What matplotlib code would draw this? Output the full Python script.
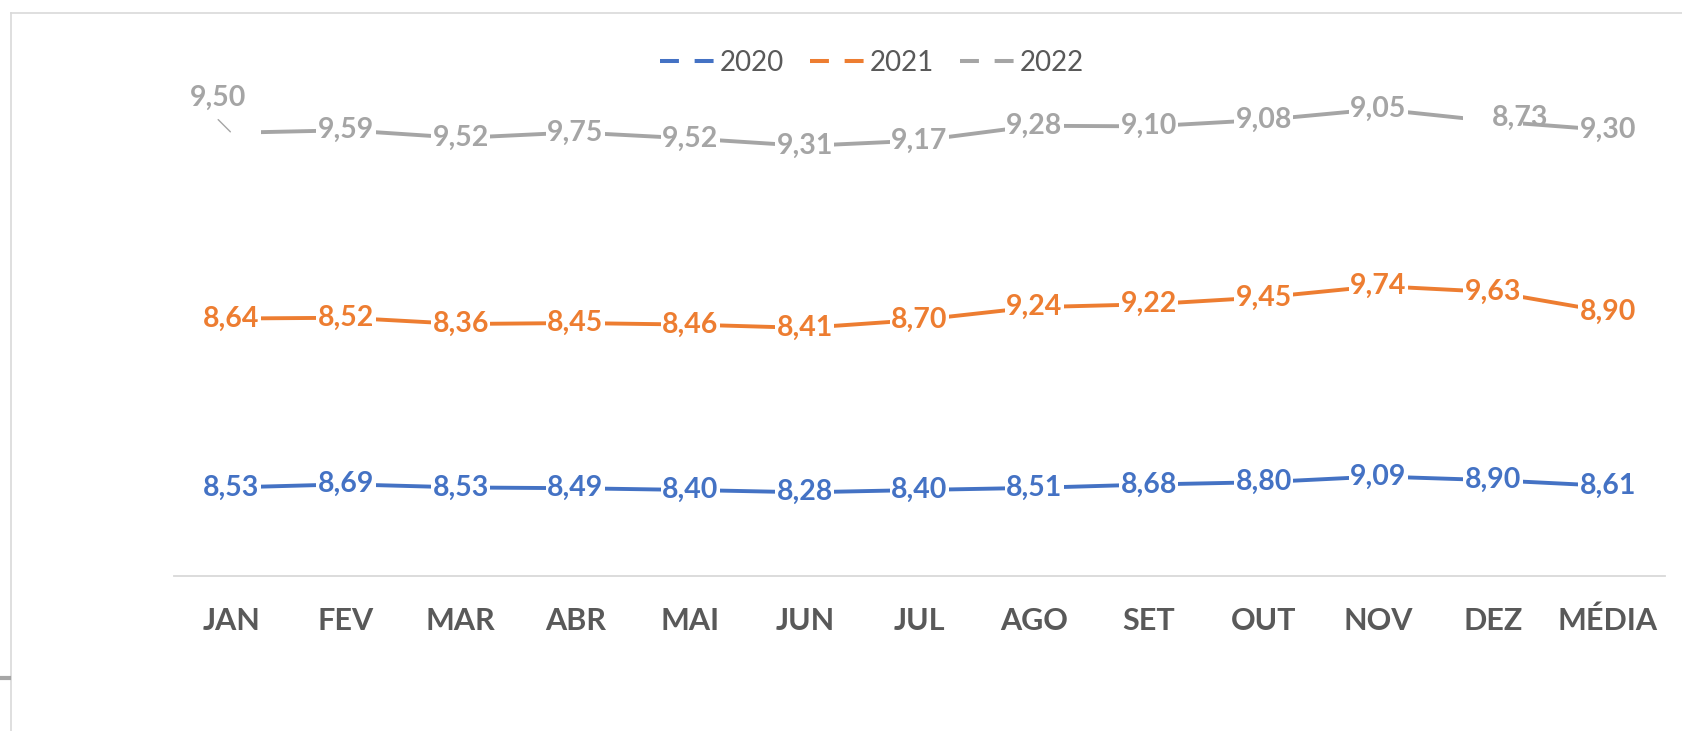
import numpy as np
import matplotlib
matplotlib.use("Agg")
import matplotlib.pyplot as plt
from matplotlib.lines import Line2D

plt.rcParams["font.family"] = ["Lato", "DejaVu Sans"]

months = ["JAN", "FEV", "MAR", "ABR", "MAI", "JUN", "JUL", "AGO", "SET",
          "OUT", "NOV", "DEZ", "MÉDIA"]
y2020 = [8.53, 8.69, 8.53, 8.49, 8.40, 8.28, 8.40, 8.51, 8.68, 8.80, 9.09, 8.90, 8.61]
y2021 = [8.64, 8.52, 8.36, 8.45, 8.46, 8.41, 8.70, 9.24, 9.22, 9.45, 9.74, 9.63, 8.90]
y2022 = [9.50, 9.59, 9.52, 9.75, 9.52, 9.31, 9.17, 9.28, 9.10, 9.08, 9.05, 8.73, 9.30]
years = ["2020", "2021", "2022"]

COLORS = ["#4472C4", "#ED7D31", "#A5A5A5"]
AXIS_TXT = "#595959"
W, H = 1683, 731
LBL_SIZE = 20.5

# labels that were dragged away from their point in the original (series, index, offset pts)
MOVED = {(2, 0): (-9.5, 25.5), (2, 11): (19.5, 2.5)}


def fmt(v):
    return f"{v:.2f}".replace(".", ",")


fig = plt.figure(figsize=(W / 100, H / 100), dpi=100, facecolor="white")
ax = fig.add_axes([174 / W, 1 - 576 / H, (1665 - 174) / W, (576 - 67.7) / H])

x = np.arange(len(months))
series = [np.array(y2020), np.array(y2021), np.array(y2022)]
stacked = np.cumsum(series, axis=0)   # stacked line chart

for k, (vals, cum, col) in enumerate(zip(series, stacked, COLORS)):
    ax.plot(x, cum, color=col, lw=2.8, solid_capstyle="round", zorder=2)
    for i, (v, c) in enumerate(zip(vals, cum)):
        box = dict(boxstyle="square,pad=0.05", fc="white", ec="none")
        if (k, i) in MOVED:
            dx, dy = MOVED[(k, i)]
            # white box left at the original spot
            ax.annotate(fmt(v), (i, c), ha="center", va="center", fontsize=LBL_SIZE,
                        fontweight="bold", color="white", bbox=box, zorder=3)
            ax.annotate(fmt(v), (i, c), xytext=(dx, dy), textcoords="offset points",
                        ha="center", va="center", fontsize=LBL_SIZE, fontweight="bold",
                        color=col, zorder=4)
            if dy > 10:
                ax.annotate("", (i, c), xytext=(dx, dy - 16),
                            textcoords="offset points",
                            arrowprops=dict(arrowstyle="-", color=col, lw=1.0,
                                            shrinkA=0, shrinkB=1),
                            zorder=4)
        else:
            ax.annotate(fmt(v), (i, c), ha="center", va="center", fontsize=LBL_SIZE,
                        fontweight="bold", color=col, bbox=box, zorder=3)

ax.set_xlim(-0.5, len(months) - 0.5)
ax.set_ylim(4, 30)
ax.set_xticks(x)
ax.set_xticklabels(months, fontsize=22, fontweight="bold", color=AXIS_TXT)
ax.tick_params(axis="x", length=0, pad=22)
ax.set_yticks([])
for s in ["top", "right", "left"]:
    ax.spines[s].set_visible(False)
ax.spines["bottom"].set_color("#d9d9d9")
ax.spines["bottom"].set_linewidth(1.3)
ax.patch.set_alpha(0)

handles = [Line2D([0], [0], color=c, lw=2.9, linestyle=(0, (4.7, 3.9)), label=l)
           for c, l in zip(COLORS, years)]
fig.legend(handles=handles, loc="center", bbox_to_anchor=(872 / W, 1 - 62.7 / H),
           ncol=3, frameon=False, fontsize=20, handlelength=2.0,
           handletextpad=0.15, columnspacing=0.95, labelcolor=AXIS_TXT)

# outer frame of the chart area (screenshot edges)
fig.add_artist(Line2D([11 / W, 1], [1 - 12.5 / H, 1 - 12.5 / H], transform=fig.transFigure,
                      color="#d9d9d9", lw=1.2))
fig.add_artist(Line2D([11 / W, 11 / W], [1 - 12.5 / H, 0], transform=fig.transFigure,
                      color="#d9d9d9", lw=1.2))
fig.add_artist(Line2D([0, 9 / W], [1 - 678 / H, 1 - 678 / H], transform=fig.transFigure,
                      color="#a6a6a6", lw=3))

fig.savefig("out.png", dpi=100, facecolor="white")
